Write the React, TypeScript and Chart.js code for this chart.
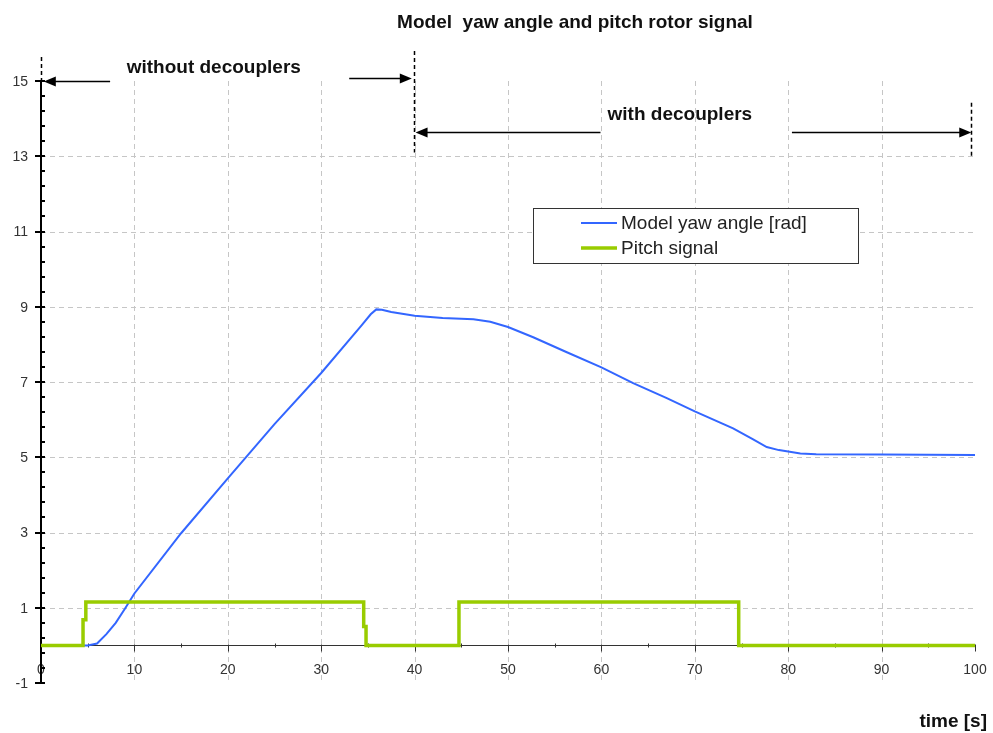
import React, { useEffect, useRef } from "react";
import { Chart, registerables } from "chart.js";

Chart.register(...registerables);

// ---- data ----
const titleText = "Model  yaw angle and pitch rotor signal";
const xAxisTitle = "time [s]";
const seriesLabels = ["Model yaw angle [rad]", "Pitch signal"];
const regionLabels = ["without decouplers", "with decouplers"];

const timeYaw = [0, 5, 6, 7, 8, 9, 10, 15, 20, 25, 30, 34.3, 35.3, 35.9, 36.5, 37.5, 40, 43, 46.3, 48.1, 50, 52.7, 56.3, 60, 63.4, 67, 70, 74.1, 76.2, 77.7, 79, 80, 81.3, 83, 90, 100];
const yawAngle = [0, 0, 0.05, 0.3, 0.6, 0.98, 1.38, 2.98, 4.44, 5.88, 7.24, 8.5, 8.8, 8.93, 8.92, 8.86, 8.76, 8.7, 8.67, 8.6, 8.46, 8.19, 7.79, 7.39, 6.97, 6.57, 6.22, 5.77, 5.48, 5.27, 5.19, 5.15, 5.1, 5.08, 5.07, 5.06];

const timePitch = [0, 4.5, 4.5, 4.8, 4.8, 34.55, 34.55, 34.8, 34.8, 44.75, 44.75, 74.7, 74.7, 100];
const pitchSignal = [0, 0, 0.68, 0.68, 1.15, 1.15, 0.5, 0.5, 0, 0, 1.15, 1.15, 0, 0];

const xTicks = [0, 10, 20, 30, 40, 50, 60, 70, 80, 90, 100];
const yTicks = [-1, 1, 3, 5, 7, 9, 11, 13, 15];

// annotation geometry in data units
const arrows = [
  { x1: 7.4, x2: 0.3, y: 15.0 },
  { x1: 33.0, x2: 39.7, y: 15.08 },
  { x1: 59.9, x2: 40.1, y: 13.65 },
  { x1: 80.4, x2: 99.6, y: 13.65 },
];
const markers = [
  { x: 0, y1: 15.0, y2: 15.64 },
  { x: 39.9, y1: 13.1, y2: 15.8 },
  { x: 99.6, y1: 13.0, y2: 14.42 },
];
const regionTextPos = [
  { x: 18.5, y: 15.21 },
  { x: 68.4, y: 13.96 },
];

const FONT = '"Liberation Sans", Arial, Helvetica, sans-serif';

const decorPlugin = {
  id: "decor",
  beforeDatasetsDraw(chart: any) {
    const { ctx } = chart;
    const xs = chart.scales.x;
    const ys = chart.scales.y;
    const X = (v: number) => xs.getPixelForValue(v);
    const Y = (v: number) => ys.getPixelForValue(v);
    const line = (a: number, b: number, c: number, d: number) => {
      ctx.beginPath();
      ctx.moveTo(a, b);
      ctx.lineTo(c, d);
      ctx.stroke();
    };
    ctx.save();
    // grid
    ctx.strokeStyle = "#c6c6c6";
    ctx.lineWidth = 1;
    ctx.setLineDash([5, 4]);
    for (const t of xTicks) {
      if (t > 0 && t < 100) {
        const px = Math.round(X(t)) + 0.5;
        line(px, Y(15), px, Y(-1));
      }
    }
    for (const t of yTicks) {
      if (t > 0 && t < 15) {
        const py = Math.round(Y(t)) + 0.5;
        line(X(0), py, X(100), py);
      }
    }
    ctx.setLineDash([]);

    // x axis at y = 0
    const y0 = Math.round(Y(0)) + 0.5;
    ctx.strokeStyle = "#333";
    ctx.lineWidth = 1;
    line(X(0), y0, X(100), y0);
    for (let t = 5; t <= 100; t += 5) {
      const px = Math.round(X(t)) + 0.5;
      if (t % 10 === 0) line(px, y0 - 1, px, y0 + 6);
      else line(px, y0 - 2, px, y0 + 2);
    }
    ctx.fillStyle = "#333";
    ctx.font = `14px ${FONT}`;
    ctx.textAlign = "center";
    ctx.textBaseline = "middle";
    for (const t of xTicks) ctx.fillText(String(t), X(t), y0 + 25);

    // y axis
    const x0 = Math.round(X(0));
    ctx.strokeStyle = "#000";
    ctx.lineWidth = 2;
    line(x0, Y(-1), x0, Y(15));
    for (let i = 0; i <= 40; i++) {
      const v = -1 + 0.4 * i;
      const py = Math.round(Y(v));
      if (i % 5 === 0) line(x0 - 6, py, x0 + 4, py);
      else line(x0, py, x0 + 4, py);
    }
    ctx.textAlign = "right";
    for (const t of yTicks) ctx.fillText(String(t), x0 - 13, Y(t) + 1);
    ctx.restore();
  },
  afterDatasetsDraw(chart: any) {
    const { ctx } = chart;
    const xs = chart.scales.x;
    const ys = chart.scales.y;
    const X = (v: number) => xs.getPixelForValue(v);
    const Y = (v: number) => ys.getPixelForValue(v);
    ctx.save();

    // title
    ctx.fillStyle = "#111";
    ctx.font = `bold 19px ${FONT}`;
    ctx.textAlign = "center";
    ctx.textBaseline = "alphabetic";
    ctx.fillText(titleText, 575, 28);

    // x axis title
    ctx.textAlign = "right";
    ctx.fillText(xAxisTitle, 987, 727);

    // region labels
    ctx.textAlign = "center";
    regionLabels.forEach((s, i) => {
      ctx.fillText(s, X(regionTextPos[i].x), Y(regionTextPos[i].y));
    });

    // dashed markers
    ctx.strokeStyle = "#000";
    ctx.lineWidth = 1.5;
    ctx.setLineDash([4, 3]);
    for (const m of markers) {
      const px = Math.round(X(m.x)) + 0.5;
      ctx.beginPath();
      ctx.moveTo(px, Y(m.y2));
      ctx.lineTo(px, Y(m.y1));
      ctx.stroke();
    }
    ctx.setLineDash([]);

    // arrows
    ctx.fillStyle = "#000";
    ctx.lineWidth = 1.5;
    for (const a of arrows) {
      const px1 = X(a.x1);
      const px2 = X(a.x2);
      const py = Math.round(Y(a.y)) + 0.5;
      const dir = Math.sign(px2 - px1);
      ctx.beginPath();
      ctx.moveTo(px1, py);
      ctx.lineTo(px2 - dir * 8, py);
      ctx.stroke();
      ctx.beginPath();
      ctx.moveTo(px2, py);
      ctx.lineTo(px2 - dir * 12, py - 5);
      ctx.lineTo(px2 - dir * 12, py + 5);
      ctx.closePath();
      ctx.fill();
    }

    // legend
    const bx = 533.5, by = 208.5, bw = 325, bh = 55;
    ctx.fillStyle = "#fff";
    ctx.fillRect(bx, by, bw, bh);
    ctx.strokeStyle = "#333";
    ctx.lineWidth = 1;
    ctx.strokeRect(bx, by, bw, bh);
    ctx.font = `19px ${FONT}`;
    ctx.textAlign = "left";
    ctx.textBaseline = "middle";
    chart.data.datasets.forEach((ds: any, i: number) => {
      const ly = 223 + i * 25;
      ctx.strokeStyle = ds.borderColor;
      ctx.lineWidth = ds.borderWidth;
      ctx.beginPath();
      ctx.moveTo(581, ly);
      ctx.lineTo(617, ly);
      ctx.stroke();
      ctx.fillStyle = "#222";
      ctx.fillText(ds.label, 621, ly + 1);
    });
    ctx.restore();
  },
};

export default function App() {
  const ref = useRef<HTMLCanvasElement | null>(null);
  useEffect(() => {
    document.body.style.margin = "0";
    const canvas = ref.current;
    if (!canvas) return;
    const chart = new Chart(canvas, {
      type: "line",
      data: {
        datasets: [
          {
            label: seriesLabels[0],
            data: timeYaw.map((t, i) => ({ x: t, y: yawAngle[i] })),
            borderColor: "#3366ff",
            borderWidth: 2,
            pointRadius: 0,
            tension: 0,
            order: 1,
          },
          {
            label: seriesLabels[1],
            data: timePitch.map((t, i) => ({ x: t, y: pitchSignal[i] })),
            borderColor: "#99cc00",
            borderWidth: 3.5,
            pointRadius: 0,
            tension: 0,
            order: 0,
          },
        ],
      },
      options: {
        animation: false,
        responsive: false,
        layout: { padding: { left: 41, right: 18, top: 81, bottom: 50 } },
        plugins: {
          legend: { display: false },
          title: { display: false },
          tooltip: { enabled: false },
        },
        scales: {
          x: { type: "linear", min: 0, max: 100, display: false },
          y: { type: "linear", min: -1, max: 15, display: false },
        },
      },
      plugins: [decorPlugin],
    });
    return () => chart.destroy();
  }, []);
  return (
    <div style={{ position: "absolute", left: 0, top: 0, width: 993, height: 733, background: "#fff" }}>
      <canvas ref={ref} width={993} height={733} style={{ display: "block" }} />
    </div>
  );
}
